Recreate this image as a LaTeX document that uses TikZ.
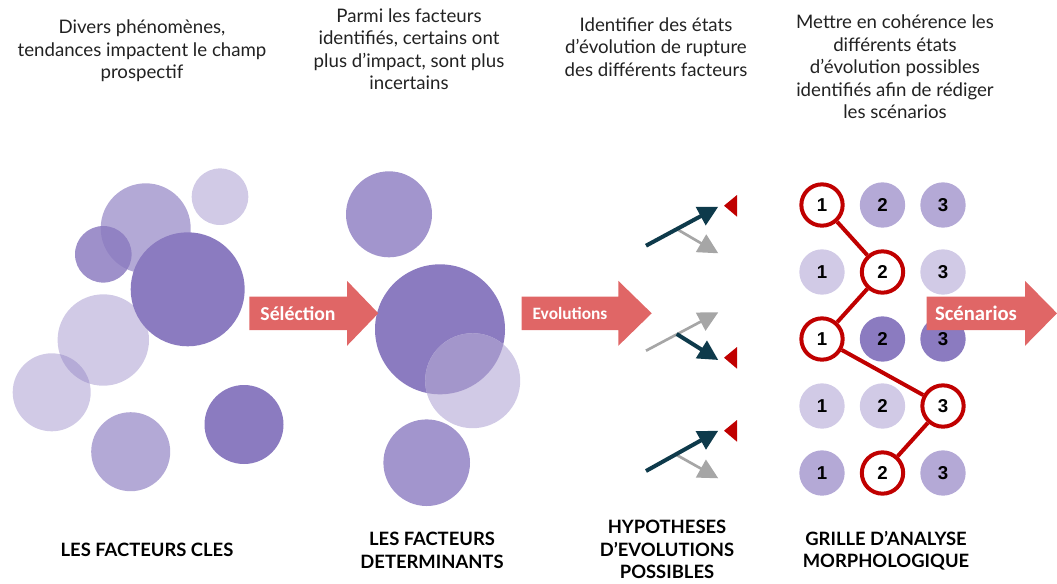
\documentclass[tikz,border=0pt]{standalone}
\usepackage{fontspec}
\setmainfont{Lato}
\newfontfamily\flechefont{Carlito}
\newfontfamily\chiffrefont{Liberation Sans}
\usetikzlibrary{
	positioning,   % placement relatif
	arrows.meta    % pointes Triangle
}
\definecolor{lavande}{HTML}{8B7BC0}
\definecolor{saumon}{HTML}{E06666}
\definecolor{petrole}{HTML}{0E3A4B}
\definecolor{rouge}{HTML}{C00000}
\definecolor{gristrait}{HTML}{A6A6A6}
\definecolor{recouvre}{HTML}{A396CB}
\definecolor{texte}{HTML}{222222}

\begin{document}
\begin{tikzpicture}[x=0.75pt, y=-0.75pt,
	bulle/.style={fill=lavande, fill opacity=#1},
	bulle/.default=1,
	legende/.style={align=center, inner sep=0pt, text=texte, font=\fontsize{14}{16.9}\selectfont},
	titre/.style={align=center, inner sep=0pt, text=black, font=\bfseries\fontsize{13.8}{16.9}\selectfont},
	etiquette/.style={text=white, inner sep=0pt, font=\flechefont\bfseries\fontsize{14.8}{16}\selectfont},
	etat/.style={circle, minimum size=34pt, inner sep=0pt, font=\chiffrefont\bfseries\fontsize{14}{14}\selectfont},
	choix/.style={etat, minimum size=31pt, draw=rouge, line width=3pt, fill=white},
	sombre/.style={petrole, line width=3pt, -{Triangle[length=15pt, width=15pt]}},
	clair/.style={gristrait, line width=2pt, -{Triangle[length=15pt, width=15pt]}}
	]
	\useasboundingbox (0,0) rectangle (1057,583);
	
	% --- Textes du haut ---
	\node[legende] (txtcles) at (142,51) {Divers phénomènes,\\tendances impactent le champ\\prospectif};
	\node[legende] (txtdet) at (409,49) {Parmi les facteurs\\identifiés, certains ont\\plus d’impact, sont plus\\incertains};
	\node[legende] (txthyp) at (656,47) {Identifier des états\\d’évolution de rupture\\des différents facteurs};
	\node[legende] (txtgrille) at (895,67) {Mettre en cohérence les\\différents états\\d’évolution possibles\\identifiés afin de rédiger\\les scénarios};
	
	% --- Facteurs cles (nuage de bulles) ---
	\fill[bulle=0.65] (145.7,228.3) circle (45);
	\fill[bulle=0.4] (220,196.7) circle (28.3);
	\fill[bulle=0.84] (103.3,254.3) circle (28.3);
	\fill[bulle=0.4] (103.3,340) circle (45.7);
	\fill[bulle] (187.7,289.3) circle (57);
	\fill[bulle=0.4] (51.7,392.3) circle (39);
	\fill[bulle=0.65] (130.7,451.7) circle (39.5);
	\fill[bulle] (244,424.5) circle (39.5);
	
	% --- Facteurs determinants ---
	\fill[bulle=0.8] (389,214.3) circle (43);
	\fill[bulle] (440,329.3) circle (65);
	\fill[lavande!40] (472.7,380.7) circle (47.5);
	\begin{scope}
		\clip (440,329.3) circle (65);
		\fill[recouvre] (472.7,380.7) circle (47.5);
	\end{scope}
	\fill[bulle=0.8] (426.7,462.7) circle (43.3);
	
	% --- Hypotheses d'evolution ---
	% groupe 1
	\draw[clair] (676.7,229) -- (718.3,253.3);
	\draw[sombre] (646,245.7) -- (718.3,206.7);
	\fill[rouge] (724,205.7) -- (737,195) -- (737,216.7) -- cycle;
	% groupe 2
	\draw[clair] (646,350.7) -- (718.3,312.3);
	\draw[sombre] (676.7,334) -- (718.3,360);
	\fill[rouge] (724,357.7) -- (737,347) -- (737,368.7) -- cycle;
	% groupe 3
	\draw[clair] (676.7,455) -- (718.3,478.3);
	\draw[sombre] (646,471) -- (718.3,430.7);
	\fill[rouge] (724,430.7) -- (737,420) -- (737,441.7) -- cycle;
	
	% --- Grille morphologique ---
	\foreach \r/\teinte/\pris in {1/65/1, 2/40/2, 3/100/1, 4/40/3, 5/65/2} {
		\foreach \c in {1,2,3} {
			\ifnum\c=\pris
				\node[choix] (g\r-\c) at ({761.5+60.5*\c},{138+67*\r}) {\c};
			\else
				\node[etat, fill=lavande!\teinte] (g\r-\c) at ({761.5+60.5*\c},{138+67*\r}) {\c};
			\fi
		}
	}
	\draw[rouge, line width=3pt] (g1-1) -- (g2-2) -- (g3-1) -- (g4-3) -- (g5-2);
	
	% --- Grosses fleches ---
	% #1 debut du corps, #2 debut de la pointe, #3 bout
	\newcommand\grossefleche[3]{%
		\fill[saumon] (#1,296.7) -- (#2,296.7) -- (#2,280.8) -- (#3,313.3)
		-- (#2,345.8) -- (#2,330) -- (#1,330) -- cycle;}
	\grossefleche{249.3}{347}{378.3}
	\grossefleche{521.7}{618.3}{651.7}
	\grossefleche{926.7}{1025}{1057}
	\node[etiquette] (selection) at (298,313.3) {Séléction};
	\node[etiquette, font=\flechefont\bfseries\fontsize{13}{14}\selectfont] (evolutions) at (570,313.3) {Evolutions};
	\node[etiquette, font=\flechefont\bfseries\fontsize{15.5}{16}\selectfont] (scenarios) at (976,313.3) {Scénarios};
	
	% --- Titres du bas ---
	\node[titre] (cles) at (147,550) {LES FACTEURS CLES};
	\node[titre] (determinants) at (432,550.5) {LES FACTEURS\\DETERMINANTS};
	\node[titre] (hypotheses) at (667,549.5) {HYPOTHESES\\D’EVOLUTIONS\\POSSIBLES};
	\node[titre] (grille) at (886,550.5) {GRILLE D’ANALYSE\\MORPHOLOGIQUE};
\end{tikzpicture}
\end{document}
